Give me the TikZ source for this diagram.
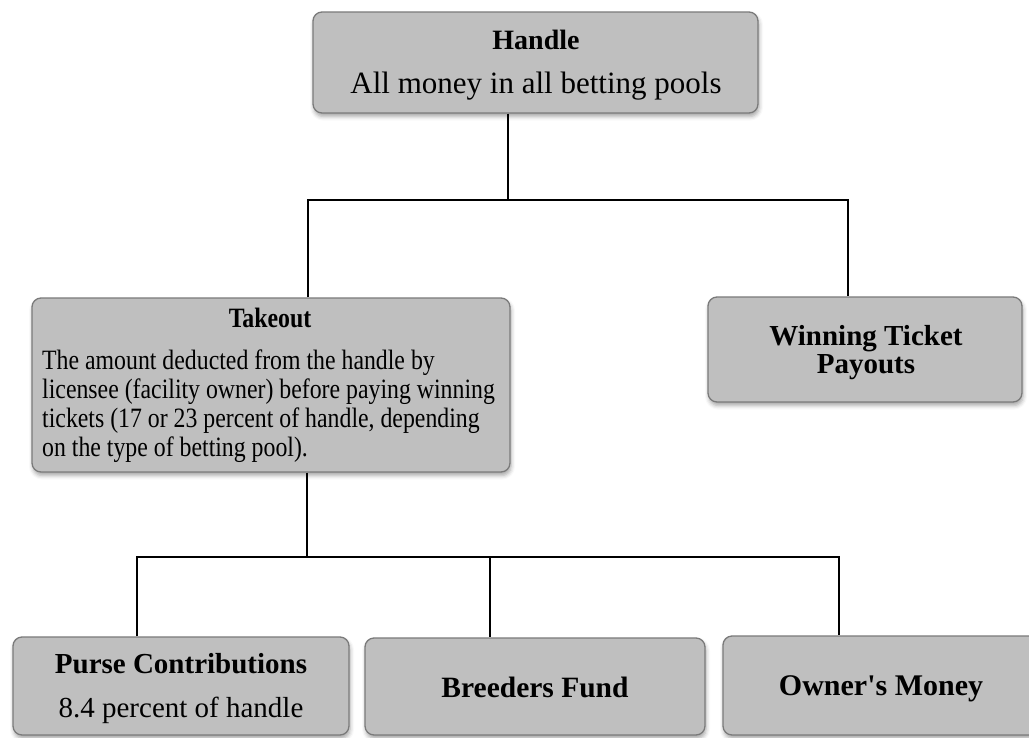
\documentclass[tikz,border=0pt]{standalone}
\usepackage{fontspec}
\setmainfont{Liberation Serif}
\newfontfamily\condfont[FakeStretch=0.85]{Liberation Serif}
\usetikzlibrary{shadows.blur}
\definecolor{boxfill}{HTML}{BFBFBF}
\definecolor{boxline}{HTML}{7A7A7A}
\tikzset{
  box/.style={draw=boxline, line width=1.3pt, fill=boxfill, rounded corners=9pt,
    inner sep=0pt,
    blur shadow={shadow xshift=1pt, shadow yshift=-3.5pt, shadow blur radius=4pt, shadow opacity=35}},
  conn/.style={draw=black, line width=2.8pt},
  ttl/.style={anchor=base, inner sep=0pt, font=\fontsize{28}{30}\selectfont\bfseries},
  body/.style={anchor=base, inner sep=0pt, font=\fontsize{28}{30}\selectfont},
  bodyl/.style={anchor=base west, inner sep=0pt, font=\condfont\fontsize{28}{30}\selectfont},
}
\begin{document}
\begin{tikzpicture}[x=1pt,y=-1pt]
\useasboundingbox (0,0) rectangle (1029,737);
\clip (0,0) rectangle (1029,737);
% boxes
\node[box, minimum width=445pt, minimum height=101pt] (handle) at (535.5,62.5) {};
\node[box, minimum width=478pt, minimum height=174pt] (takeout) at (271,385) {};
\node[box, minimum width=314pt, minimum height=105pt] (win) at (865,349.5) {};
\node[box, minimum width=336pt, minimum height=98pt] (purse) at (181,686) {};
\node[box, minimum width=340pt, minimum height=97pt] (breed) at (535,686.5) {};
\node[box, minimum width=316pt, minimum height=99pt] (owner) at (881,685.5) {};
% texts
\node[ttl] (t1) at (536,49) {Handle};
\node[body, font=\fontsize{31}{33}\selectfont] (t2) at (536,93) {All money in all betting pools};
\node[ttl, font=\condfont\fontsize{28}{30}\selectfont\bfseries] (t3) at (270,327) {Takeout};
\node[bodyl] (t4) at (42,369) {The amount deducted from the handle by};
\node[bodyl] (t5) at (42,398) {licensee (facility owner) before paying winning};
\node[bodyl] (t6) at (42,427) {tickets (17 or 23 percent of handle, depending};
\node[bodyl] (t7) at (42,456) {on the type of betting pool).};
\node[ttl, font=\fontsize{29}{31}\selectfont\bfseries] (t8) at (866,345) {Winning Ticket};
\node[ttl, font=\fontsize{29}{31}\selectfont\bfseries] (t9) at (866,373) {Payouts};
\node[ttl, font=\fontsize{29}{31}\selectfont\bfseries] (t10) at (181,673) {Purse Contributions};
\node[body, font=\fontsize{29}{31}\selectfont] (t11) at (181,717) {8.4 percent of handle};
\node[ttl, font=\fontsize{29.5}{31}\selectfont\bfseries] (t12) at (535,697) {Breeders Fund};
\node[ttl, font=\fontsize{30}{32}\selectfont\bfseries] (t13) at (881,695) {Owner\textquotesingle s Money};
% connector junctions
\coordinate (j1) at (508,200);
\coordinate (jA) at (308,200);
\coordinate (jB) at (848,200);
\coordinate (j2) at (307,557);
\coordinate (jC) at (137,557);
\coordinate (jD) at (490,557);
\coordinate (jE) at (839,557);
% connectors
\draw[conn] (j1 |- handle.south) -- (j1);
\draw[conn, line join=miter] (jA |- takeout.north) -- (jA) -- (jB) -- (jB |- win.north);
\draw[conn] (j2 |- takeout.south) -- (j2);
\draw[conn, line join=miter] (jC |- purse.north) -- (jC) -- (jE) -- (jE |- owner.north);
\draw[conn] (jD) -- (jD |- breed.north);
\end{tikzpicture}
\end{document}
